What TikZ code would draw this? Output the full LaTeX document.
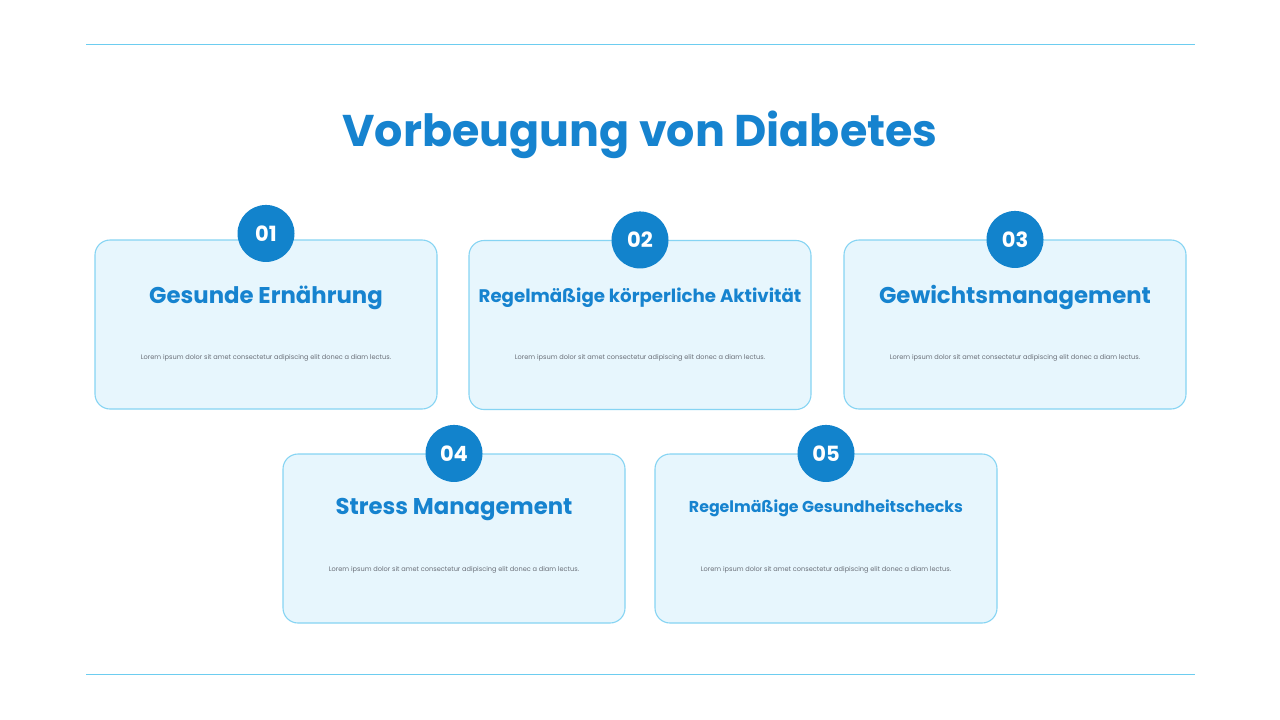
\documentclass[tikz,border=0pt]{standalone}
\usepackage{fontspec}
\setmainfont{Poppins}
\usetikzlibrary{positioning}

\definecolor{titleblue}{HTML}{1683CF}
\definecolor{badgeblue}{HTML}{1283CC}
\definecolor{cardfill}{HTML}{E7F6FD}
\definecolor{cardline}{HTML}{86D4F3}
\definecolor{ruleline}{HTML}{6DCDF0}
\definecolor{loremgray}{HTML}{6A6F78}

\begin{document}
\begin{tikzpicture}[
    x=1pt, y=-1pt,
    % --- MINIMALIST STYLES ---
    card/.style={rectangle, rounded corners=15pt, draw=cardline, line width=1.1pt, fill=cardfill, minimum width=342pt, minimum height=169pt},
    badge/.style={circle, fill=badgeblue, minimum size=57pt, inner sep=0pt, text=white, font=\bfseries\fontsize{21}{21}\selectfont},
    heading/.style={text=titleblue, font=\bfseries\fontsize{22.8}{26}\selectfont},
    smallheading/.style={heading, font=\bfseries\fontsize{15.8}{20}\selectfont},
    lorem/.style={text=loremgray, font=\fontsize{6.6}{8}\selectfont},
    rule/.style={draw=ruleline, line width=1pt}
]
\useasboundingbox[fill=white] (0,0) rectangle (1280,720);

% --- FRAME LINES ---
\coordinate (top_l) at (86,44);
\coordinate (top_r) at (1195,44);
\coordinate (bot_l) at (86,674);
\coordinate (bot_r) at (1195,674);
\draw [rule] (top_l) -- (top_r);
\draw [rule] (bot_l) -- (bot_r);

% --- TITLE ---
\node (title) at (640,135) [text=titleblue, font=\bfseries\fontsize{44.4}{50}\selectfont] {Vorbeugung von Diabetes};

% --- 1. FIRST ROW ---
\node (card1) at (266,324.5) [card] {};
\node (card2) at (640,325) [card] {};
\node (card3) at (1015,324.5) [card] {};

% --- 2. SECOND ROW ---
\node (card4) at (454,538.5) [card] {};
\node (card5) at (826,538.5) [card] {};

% --- BADGES (sit on the top edge) ---
\node (num1) at ([yshift=6pt]card1.north) [badge] {01};
\node (num2) at (card2.north) [badge] {02};
\node (num3) at (card3.north) [badge] {03};
\node (num4) at (card4.north) [badge] {04};
\node (num5) at (card5.north) [badge] {05};

% --- HEADINGS ---
\node (head1) at ([yshift=27pt]card1.center) [heading] {Gesunde Ernährung};
\node (head2) at ([yshift=27pt]card2.center) [smallheading, font=\bfseries\fontsize{18.2}{22}\selectfont] {Regelmäßige körperliche Aktivität};
\node (head3) at ([yshift=27pt]card3.center) [heading] {Gewichtsmanagement};
\node (head4) at ([yshift=29pt]card4.center) [heading] {Stress Management};
\node (head5) at ([yshift=30pt]card5.center) [smallheading] {Regelmäßige Gesundheitschecks};

% --- BODY TEXT ---
\node (text1) at ([yshift=-33pt]card1.center) [lorem] {Lorem ipsum dolor sit amet consectetur adipiscing elit donec a diam lectus.};
\node (text2) at ([yshift=-33pt]card2.center) [lorem] {Lorem ipsum dolor sit amet consectetur adipiscing elit donec a diam lectus.};
\node (text3) at ([yshift=-33pt]card3.center) [lorem] {Lorem ipsum dolor sit amet consectetur adipiscing elit donec a diam lectus.};
\node (text4) at ([yshift=-31.5pt]card4.center) [lorem] {Lorem ipsum dolor sit amet consectetur adipiscing elit donec a diam lectus.};
\node (text5) at ([yshift=-31.5pt]card5.center) [lorem] {Lorem ipsum dolor sit amet consectetur adipiscing elit donec a diam lectus.};

\end{tikzpicture}
\end{document}
